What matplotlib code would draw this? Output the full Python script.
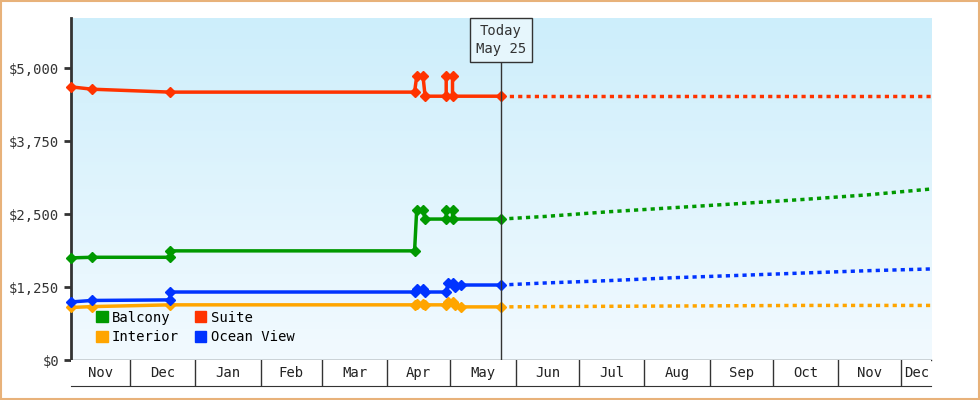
import matplotlib
matplotlib.use("Agg")
import matplotlib.pyplot as plt
import matplotlib.dates as mdates
import matplotlib.patches as mp
import numpy as np
from datetime import datetime
from matplotlib.patches import Rectangle

plt.rcParams['font.family'] = ['DejaVu Sans Mono']
d = lambda s: datetime.strptime(s, "%Y-%m-%d")

start, end, today = d("2023-11-03"), d("2024-12-15"), d("2024-05-25")

suite_dates = ["2023-11-03","2023-11-13","2023-12-20","2024-04-14","2024-04-15","2024-04-18","2024-04-19","2024-04-29","2024-04-29","2024-05-02","2024-05-02","2024-05-25"]
suite_vals = [4680,4640,4590,4590,4860,4860,4520,4520,4860,4860,4520,4520]
balcony_dates = ["2023-11-03","2023-11-13","2023-12-20","2023-12-20","2024-04-14","2024-04-15","2024-04-18","2024-04-19","2024-04-29","2024-04-29","2024-05-02","2024-05-02","2024-05-25"]
balcony_vals = [1750,1760,1760,1870,1870,2570,2570,2415,2415,2570,2570,2415,2415]
ocean_dates = ["2023-11-03","2023-11-13","2023-12-20","2023-12-20","2024-04-14","2024-04-15","2024-04-18","2024-04-19","2024-04-29","2024-04-30","2024-05-02","2024-05-03","2024-05-06","2024-05-25"]
ocean_vals = [995,1020,1030,1165,1165,1215,1215,1165,1165,1320,1320,1250,1285,1285]
interior_dates = ["2023-11-03","2023-11-13","2023-12-20","2024-04-14","2024-04-15","2024-04-18","2024-04-19","2024-04-29","2024-04-30","2024-05-02","2024-05-03","2024-05-06","2024-05-25"]
interior_vals = [900,915,945,945,960,960,945,945,990,990,940,910,910]

fc_dates = ["2024-05-25","2024-06-15","2024-07-15","2024-08-15","2024-09-15","2024-10-15","2024-11-15","2024-12-15"]
fc_suite = [4520,4520,4520,4520,4520,4520,4520,4520]
fc_balcony = [2415,2460,2540,2610,2680,2750,2830,2930]
fc_ocean = [1285,1320,1360,1410,1450,1490,1530,1560]
fc_interior = [910,915,920,925,930,935,935,935]

series = [("Balcony","#009900",balcony_dates,balcony_vals,fc_balcony),
          ("Suite","#ff3300",suite_dates,suite_vals,fc_suite),
          ("Interior","#ffa500",interior_dates,interior_vals,fc_interior),
          ("Ocean View","#0033ff",ocean_dates,ocean_vals,fc_ocean)]

fig = plt.figure(figsize=(9.8,4), dpi=100)
fig.patch.set_facecolor("white")
fig.patches.append(Rectangle((0.001,0.002),0.998,0.996,transform=fig.transFigure,fill=False,edgecolor="#e8b27a",lw=1.5))
ax = fig.add_axes([71/980, 40/400, 860/980, 342/400])
ax.imshow(np.linspace(0,1,100).reshape(-1,1), cmap=matplotlib.colors.LinearSegmentedColormap.from_list("g",["#cdeefb","#f2faff"]),
          extent=[0,1,0,1], transform=ax.transAxes, aspect="auto", zorder=0)
patches = {}
for name,c,ds,vs,fv in series:
    ax.plot([d(x) for x in ds], vs, color=c, lw=2.5, marker="D", ms=5.5, zorder=3, clip_on=False)
    ax.plot([d(x) for x in fc_dates], fv, color=c, lw=2.5, ls=(0,(1.2,1.2)), zorder=3)
    patches[name] = mp.Patch(color=c, label=name)
ax.set_xlim(start,end)
ax.set_ylim(0,5860)
ax.set_yticks([0,1250,2500,3750,5000])
ax.set_yticklabels(["$0","$1,250","$2,500","$3,750","$5,000"], fontsize=10, color="#333")
ax.tick_params(axis="y", length=5, width=2, color="#333")
ax.set_xticks([])
for s in ["top","right"]:
    ax.spines[s].set_visible(False)
ax.spines["left"].set_linewidth(2); ax.spines["left"].set_color("#333")
ax.spines["bottom"].set_linewidth(1); ax.spines["bottom"].set_color("#333")
ax.axvline(today, color="#333", lw=1, zorder=4)
ax.text(today, 5760, "Today\nMay 25", ha="center", va="top", fontsize=10, color="#333", linespacing=1.4,
        bbox=dict(boxstyle="square,pad=0.45", fc="#e6f6fc", ec="#333", lw=1), zorder=5)
order = ["Balcony","Interior","Suite","Ocean View"]
ax.legend(handles=[patches[n] for n in order], loc="lower left", ncol=2, frameon=False, fontsize=10,
          handlelength=0.8, handleheight=0.8, handletextpad=0.3, columnspacing=1.2, labelspacing=0.4,
          bbox_to_anchor=(0.015,0.01))

# month strip
ax2 = fig.add_axes([71/980, 14/400, 860/980, 26/400])
ax2.set_xlim(start,end); ax2.set_ylim(0,1)
months = ["2023-12-01","2024-01-01","2024-02-01","2024-03-01","2024-04-01","2024-05-01","2024-06-01","2024-07-01","2024-08-01","2024-09-01","2024-10-01","2024-11-01","2024-12-01"]
bounds = [start]+[d(m) for m in months]+[end]
labels = ["Nov","Dec","Jan","Feb","Mar","Apr","May","Jun","Jul","Aug","Sep","Oct","Nov","Dec"]
for i,l in enumerate(labels):
    a,b = mdates.date2num(bounds[i]), mdates.date2num(bounds[i+1])
    ax2.text((a+b)/2, 0.5, l, ha="center", va="center", fontsize=10, color="#222")
for m in months:
    ax2.axvline(d(m), color="#333", lw=1)
for s in ["top","right","left"]:
    ax2.spines[s].set_visible(False)
ax2.spines["bottom"].set_color("#333")
ax2.set_xticks([]); ax2.set_yticks([])
fig.savefig("out.png", dpi=100)
